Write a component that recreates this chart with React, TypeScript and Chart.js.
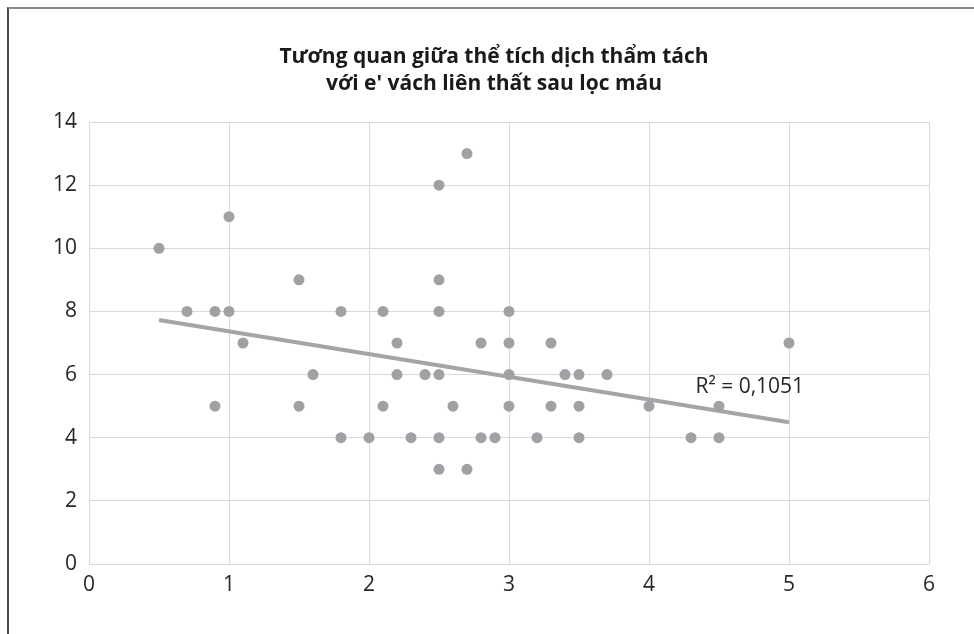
import React, { useEffect, useRef } from "react";
import { Chart, registerables } from "chart.js";

Chart.register(...registerables);

const titleLines = ["Tương quan giữa thể tích dịch thẩm tách", "với e' vách liên thất sau lọc máu"];

const xValues = [
  0.5, 0.7, 0.9, 0.9, 1, 1, 1.1, 1.5, 1.5, 1.6,
  1.8, 1.8, 2, 2.1, 2.1, 2.2, 2.2, 2.3, 2.4,
  2.5, 2.5, 2.5, 2.5, 2.5, 2.5,
  2.6, 2.7, 2.7, 2.8, 2.8, 2.9,
  3, 3, 3, 3,
  3.2, 3.3, 3.3, 3.4, 3.5, 3.5, 3.5, 3.7,
  4, 4.3, 4.5, 4.5, 5,
];
const yValues = [
  10, 8, 8, 5, 11, 8, 7, 9, 5, 6,
  8, 4, 4, 8, 5, 7, 6, 4, 6,
  12, 9, 8, 6, 4, 3,
  5, 13, 3, 7, 4, 4,
  8, 7, 6, 5,
  4, 7, 5, 6, 6, 5, 4, 6,
  5, 4, 5, 4, 7,
];

const trendX = [0.5, 5];
const trendY = [7.73, 4.49];

const r2Text = "R² = 0,1051";
const r2AnchorX = 4.72;
const r2AnchorY = 5.6;

const xTicks = [0, 1, 2, 3, 4, 5, 6];
const yTicks = [0, 2, 4, 6, 8, 10, 12, 14];

const FONT = "'Open Sans', 'Noto Sans', sans-serif";

export default function App() {
  const ref = useRef<HTMLCanvasElement | null>(null);

  useEffect(() => {
    if (!ref.current) return;
    const r2Plugin = {
      id: "r2label",
      afterDatasetsDraw(chart: any) {
        const { ctx, scales } = chart;
        const px = scales.x.getPixelForValue(r2AnchorX);
        const py = scales.y.getPixelForValue(r2AnchorY);
        ctx.save();
        ctx.font = `21px ${FONT}`;
        ctx.fillStyle = "#262626";
        ctx.textAlign = "center";
        ctx.textBaseline = "middle";
        ctx.fillText(r2Text, px, py);
        ctx.restore();
      },
    };

    const chart = new Chart(ref.current, {
      type: "scatter",
      data: {
        datasets: [
          {
            type: "line",
            label: "trend",
            data: trendX.map((x, i) => ({ x, y: trendY[i] })),
            borderColor: "#a5a5a8",
            borderWidth: 4,
            pointRadius: 0,
            fill: false,
            order: 2,
          } as any,
          {
            label: "data",
            data: xValues.map((x, i) => ({ x, y: yValues[i] })),
            backgroundColor: "#a0a0a5",
            borderWidth: 0,
            pointRadius: 5.5,
            pointHoverRadius: 5.5,
            order: 1,
          },
        ],
      },
      options: {
        animation: false,
        responsive: false,
        events: [],
        layout: { padding: { left: 14, right: 0, top: 0, bottom: 0 } },
        plugins: {
          legend: { display: false },
          tooltip: { enabled: false },
          title: {
            display: true,
            text: titleLines,
            color: "#1a1a1a",
            font: { family: FONT, size: 21, weight: "bold", lineHeight: 27 / 21 },
            padding: { top: 44, bottom: 24 },
          },
        },
        scales: {
          x: {
            type: "linear",
            min: 0,
            max: 6,
            afterBuildTicks: (s: any) => {
              s.ticks = xTicks.map((v) => ({ value: v }));
            },
            afterFit: (s: any) => {
              s.height = 70;
            },
            grid: { color: "#d9d9d9", lineWidth: 1, drawTicks: false },
            border: { display: false },
            ticks: {
              color: "#262626",
              font: { family: FONT, size: 21 },
              padding: 8,
              maxRotation: 0,
            },
          },
          y: {
            type: "linear",
            min: 0,
            max: 14,
            afterBuildTicks: (s: any) => {
              s.ticks = yTicks.map((v) => ({ value: v }));
            },
            afterFit: (s: any) => {
              s.width = 75;
            },
            grid: { color: "#d9d9d9", lineWidth: 1, drawTicks: false },
            border: { display: false },
            ticks: {
              color: "#262626",
              font: { family: FONT, size: 21 },
              padding: 12,
            },
          },
          yRight: {
            type: "linear",
            position: "right",
            display: true,
            grid: { display: false, drawTicks: false },
            border: { display: false },
            ticks: { display: false },
            afterFit: (s: any) => {
              s.width = 45;
            },
          },
        },
      } as any,
      plugins: [r2Plugin],
    });
    return () => chart.destroy();
  }, []);

  return (
    <div style={{ position: "absolute", left: 0, top: 0, width: 974, height: 634, background: "#fff", overflow: "hidden" }}>
      <div
        style={{
          position: "absolute",
          left: 7,
          top: 7,
          right: 0,
          bottom: 0,
          borderTop: "2px solid #8a8a8a",
          borderLeft: "2px solid #4a4a4a",
        }}
      />
      <canvas ref={ref} width={974} height={634} style={{ position: "absolute", left: 0, top: 0, width: 974, height: 634 }} />
    </div>
  );
}
